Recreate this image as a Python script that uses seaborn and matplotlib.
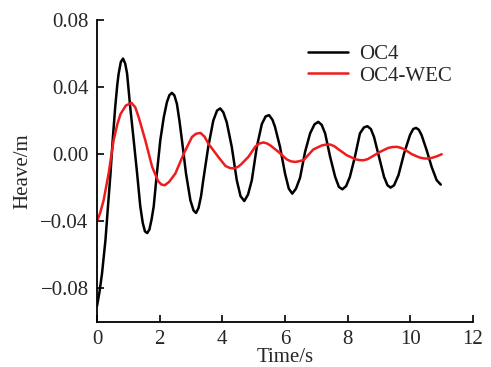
import pandas as pd
import matplotlib
matplotlib.use("Agg")
import matplotlib.pyplot as plt
import seaborn as sns

# heave of the OC4 platform
time_oc4 = [0.00, 0.08, 0.16, 0.27, 0.35, 0.43, 0.50, 0.58, 0.65, 0.69,
            0.76, 0.83, 0.90, 0.96, 1.06, 1.17, 1.28, 1.38, 1.46, 1.53,
            1.60, 1.67, 1.74, 1.81, 1.91, 2.02, 2.13, 2.23, 2.31, 2.39,
            2.47, 2.55, 2.63, 2.71, 2.84, 2.98, 3.08, 3.16, 3.24, 3.32,
            3.39, 3.55, 3.71, 3.83, 3.93, 4.03, 4.14, 4.30, 4.46, 4.58,
            4.70, 4.82, 4.94, 5.10, 5.26, 5.38, 5.49, 5.60, 5.68, 5.84,
            6.00, 6.12, 6.23, 6.35, 6.48, 6.64, 6.80, 6.94, 7.06, 7.17,
            7.28, 7.44, 7.60, 7.72, 7.83, 7.95, 8.07, 8.23, 8.39, 8.52,
            8.63, 8.74, 8.84, 9.00, 9.16, 9.27, 9.37, 9.48, 9.62, 9.80,
            9.99, 10.09, 10.18, 10.27, 10.36, 10.52, 10.68, 10.84, 10.97]
heave_oc4 = [-0.0905, -0.082, -0.071, -0.051, -0.031, -0.0115, 0.0084, 0.028, 0.042, 0.048,
             0.055, 0.057, 0.054, 0.048, 0.028, 0.0084, -0.0115, -0.031, -0.041, -0.046,
             -0.047, -0.045, -0.039, -0.031, -0.0115, 0.0084, 0.022, 0.031, 0.0352, 0.0366,
             0.035, 0.030, 0.020, 0.0084, -0.0115, -0.0275, -0.0335, -0.035, -0.032, -0.025,
             -0.0155, 0.0044, 0.020, 0.026, 0.0273, 0.025, 0.019, 0.0044, -0.0155, -0.025,
             -0.0279, -0.024, -0.0155, 0.0044, 0.018, 0.0225, 0.0233, 0.0205, 0.0163, 0.0044,
             -0.0115, -0.0205, -0.0235, -0.0205, -0.014, 0.0014, 0.0124, 0.0178, 0.0193, 0.0175,
             0.0124, -0.0016, -0.0135, -0.0195, -0.0209, -0.019, -0.0135, -0.0016, 0.0124, 0.016,
             0.0167, 0.015, 0.0103, -0.0016, -0.0135, -0.0185, -0.0199, -0.0185, -0.0125, 0.0005,
             0.0115, 0.015, 0.0157, 0.0146, 0.0113, 0.0024, -0.0076, -0.0155, -0.0181]

# heave of the OC4 platform with the wave energy converters
time_wec = [0.00, 0.10, 0.21, 0.37, 0.53, 0.65, 0.75, 0.92, 1.10, 1.22,
            1.33, 1.54, 1.76, 1.95, 2.05, 2.16, 2.30, 2.50, 2.77, 3.03,
            3.16, 3.30, 3.43, 3.55, 3.87, 4.10, 4.24, 4.38, 4.50, 4.60,
            4.83, 5.05, 5.18, 5.31, 5.43, 5.55, 5.79, 6.05, 6.18, 6.32,
            6.45, 6.60, 6.90, 7.17, 7.30, 7.44, 7.57, 7.70, 7.97, 8.25,
            8.38, 8.50, 8.63, 8.77, 9.03, 9.30, 9.44, 9.57, 9.70, 9.80,
            10.05, 10.30, 10.44, 10.57, 10.70, 10.85, 11.00]
heave_wec = [-0.040, -0.035, -0.0275, -0.0115, 0.0084, 0.018, 0.024, 0.029, 0.0306, 0.028,
             0.022, 0.0084, -0.0076, -0.016, -0.018, -0.0185, -0.0165, -0.0115, 0.0004, 0.0103,
             0.0122, 0.0127, 0.0105, 0.0064, -0.0016, -0.007, -0.0082, -0.0085, -0.0075, -0.006,
             -0.0016, 0.0045, 0.0064, 0.007, 0.0064, 0.005, 0.0014, -0.003, -0.0042, -0.0046,
             -0.0042, -0.0034, 0.0028, 0.0052, 0.0057, 0.0058, 0.0048, 0.003, -0.0006, -0.003,
             -0.0035, -0.0036, -0.003, -0.0015, 0.0014, 0.0038, 0.0043, 0.0044, 0.0038, 0.003,
             0.0, -0.002, -0.0025, -0.0026, -0.0021, -0.0012, 0.0]

x_ticks = [0, 2, 4, 6, 8, 10, 12]
y_ticks = [-0.08, -0.04, 0.00, 0.04, 0.08]


def main():
    sns.set_style("ticks")
    plt.rcParams['font.family'] = ['Liberation Serif', 'DejaVu Serif']
    plt.rcParams['xtick.direction'] = 'in'
    plt.rcParams['ytick.direction'] = 'in'
    plt.rcParams['lines.solid_joinstyle'] = 'round'

    df = pd.concat([
        pd.DataFrame({'Time': time_oc4, 'Heave': heave_oc4, 'case': 'OC4'}),
        pd.DataFrame({'Time': time_wec, 'Heave': heave_wec, 'case': 'OC4-WEC'}),
    ])

    fig = plt.figure(figsize=(4.91, 3.67), dpi=100)
    ax = fig.add_axes([0.1976, 0.1226, 0.7658, 0.8229])
    sns.lineplot(data=df, x='Time', y='Heave', hue='case', estimator=None, sort=False,
                 palette={'OC4': 'black', 'OC4-WEC': '#ee1c1c'}, linewidth=1.8, ax=ax)

    ax.set_xlim(0, 12)
    ax.set_ylim(-0.1, 0.08)
    ax.set_xticks(x_ticks)
    ax.set_yticks(y_ticks)
    ax.set_yticklabels([f"{v:.2f}".replace('-', '\u2212') for v in y_ticks])
    ax.tick_params(labelsize=15, length=5, width=1.2, color='black', pad=6)
    for s in ['left', 'bottom']:
        ax.spines[s].set_linewidth(1.3)
        ax.spines[s].set_color('black')
    sns.despine(ax=ax)

    ax.set_xlabel("Time/s", fontsize=15, labelpad=-1)
    ax.set_ylabel("Heave/m", fontsize=15, labelpad=6)

    ax.legend(loc='upper left', bbox_to_anchor=(0.56, 0.918), frameon=False, fontsize=15,
              handlelength=1.95, handletextpad=0.5, labelspacing=0.08, borderpad=0,
              borderaxespad=0, title=None)

    fig.savefig("out.png", dpi=100)


if __name__ == "__main__":
    main()
